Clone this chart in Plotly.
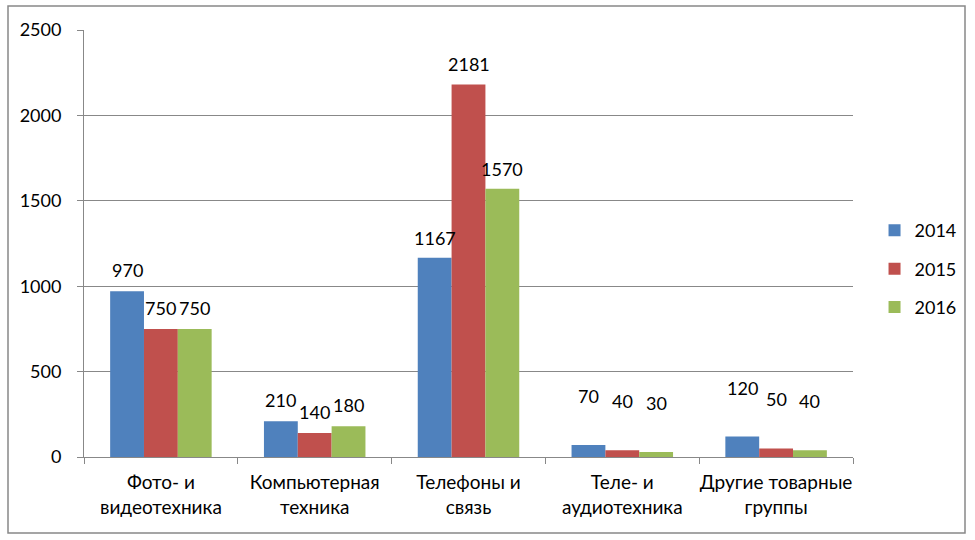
import plotly.graph_objects as go

categories = ["Фото- и<br>видеотехника", "Компьютерная<br>техника", "Телефоны и<br>связь",
              "Теле- и<br>аудиотехника", "Другие товарные<br>группы"]
years = ["2014", "2015", "2016"]
values_2014 = [970, 210, 1167, 70, 120]
values_2015 = [750, 140, 2181, 40, 50]
values_2016 = [750, 180, 1570, 30, 40]
series = [values_2014, values_2015, values_2016]
colors = ["#4F81BD", "#C0504D", "#9BBB59"]
y_ticks = [0, 500, 1000, 1500, 2000, 2500]
label_lift = [21, 21, 20, 49, 49]  # label offsets above bars as in the original

FONT = "Lato, Calibri, 'Open Sans', sans-serif"
L, R, T, B = 84, 122, 30, 83
W, H = 975, 540
BARGAP = 0.34
plot_w = W - L - R
plot_h = H - T - B
bar_px = plot_w / len(categories) * (1 - BARGAP) / len(series)

fig = go.Figure()
for name, vals, col in zip(years, series, colors):
    fig.add_trace(go.Bar(
        x=categories, y=vals, name=name, marker_color=col, marker_line_width=0,
        legendgroup=name,
    ))

annotations = []
for i, vals in enumerate(series):
    for j, v in enumerate(vals):
        annotations.append(dict(
            x=categories[j], y=v, xref="x", yref="y", text=str(v), showarrow=False,
            xshift=(i - 1) * bar_px, yshift=label_lift[j], yanchor="middle",
            font=dict(size=18, color="black", family=FONT)))

fig.update_layout(
    width=W, height=H,
    margin=dict(l=L, r=R, t=T, b=B, autoexpand=False),
    paper_bgcolor="white", plot_bgcolor="white",
    barmode="group", bargap=BARGAP, bargroupgap=0,
    font=dict(family=FONT, size=18, color="black"),
    legend=dict(x=1.028, y=0.44, xanchor="left", yanchor="middle",
                font=dict(size=18), itemwidth=30, tracegroupgap=12,
                bgcolor="rgba(0,0,0,0)"),
    annotations=annotations,
    shapes=[dict(type="rect", xref="paper", yref="paper",
                 x0=-76 / plot_w, x1=(965 - L) / plot_w, y0=-(533 - 457) / plot_h, y1=1 + 24 / plot_h,
                 line=dict(color="#888888", width=1.5), fillcolor="rgba(0,0,0,0)")],
)
fig.update_xaxes(showline=True, linecolor="#888888", linewidth=1, ticks="outside",
                 tickson="boundaries", ticklen=6, tickcolor="#888888", tickangle=0,
                 automargin=False,
                 tickfont=dict(size=19), showgrid=False, ticklabelstandoff=8)
fig.update_yaxes(range=[0, 2500], tickvals=y_ticks, showline=True, linecolor="#888888",
                 linewidth=1, ticks="outside", ticklen=6, tickcolor="#888888",
                 gridcolor="#888888", gridwidth=1, tickfont=dict(size=18),
                 automargin=False, zeroline=False, ticklabelstandoff=12)

fig.write_html("out.html")
